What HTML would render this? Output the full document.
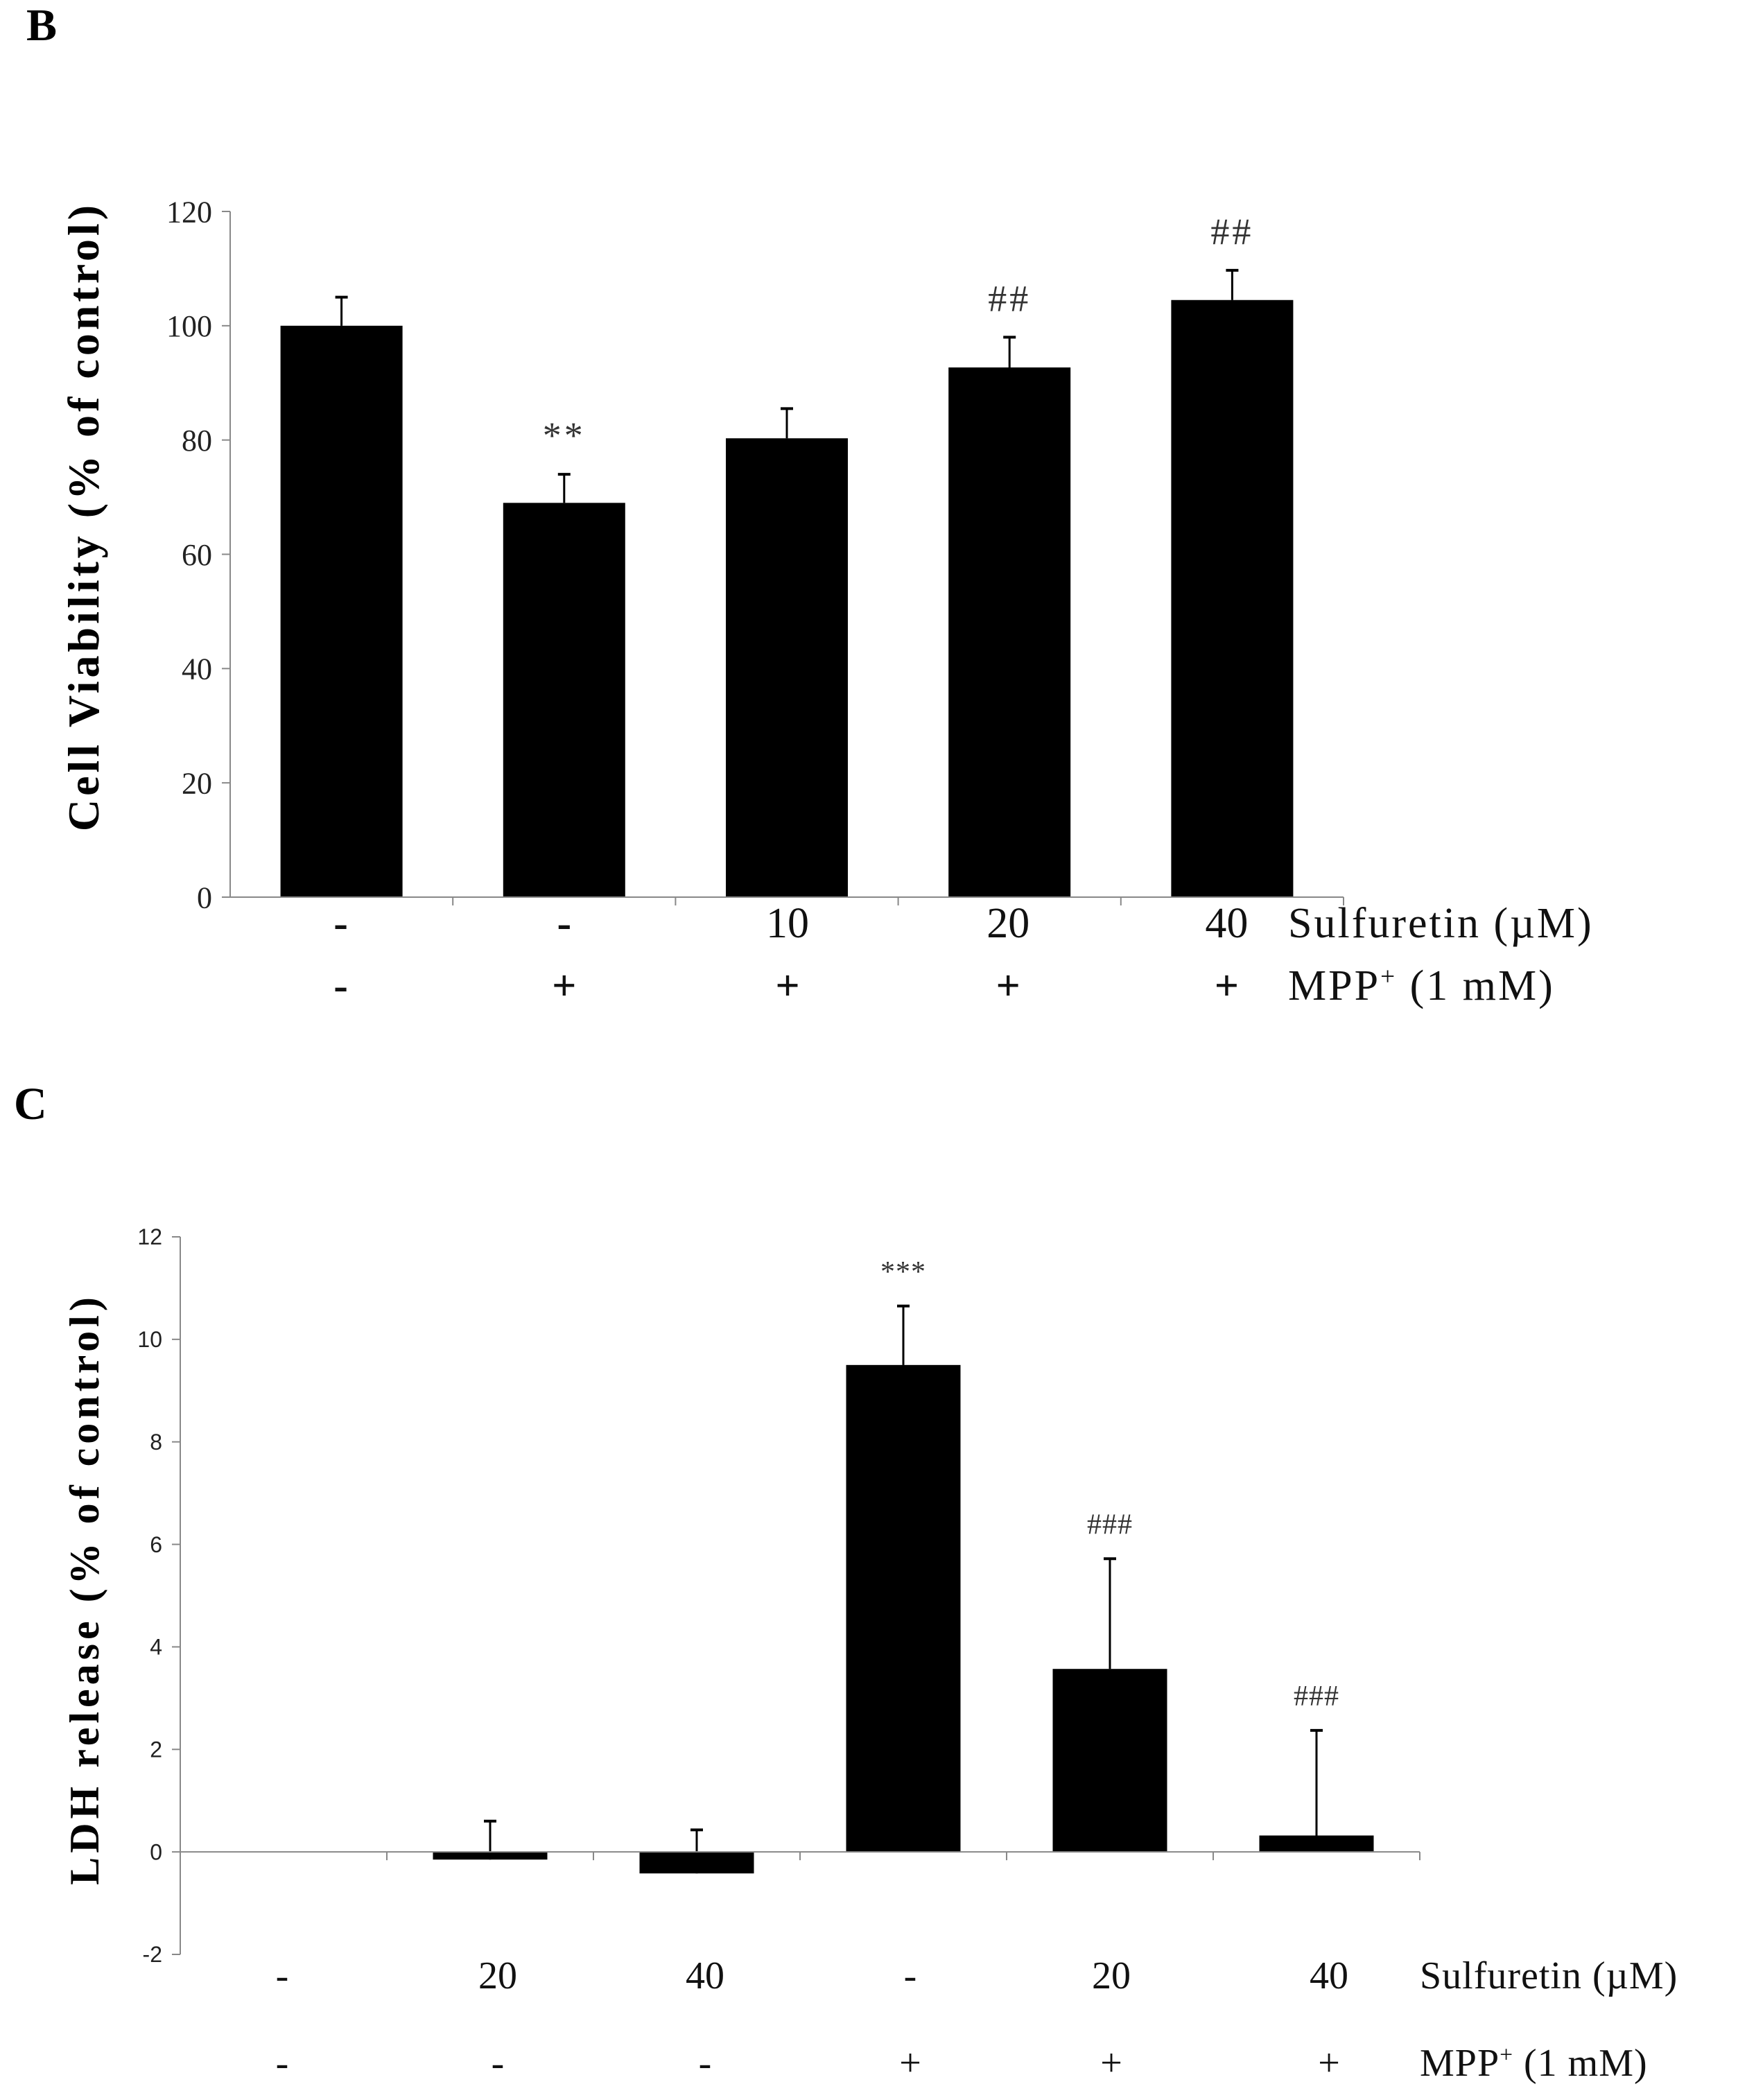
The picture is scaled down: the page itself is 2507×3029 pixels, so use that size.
<!DOCTYPE html>
<html><head><meta charset="utf-8"><style>
html,body{margin:0;padding:0;background:#fff}
svg{display:block}
</style></head><body>
<svg id="fig" width="2507" height="3029" viewBox="0 0 2507 3029" xmlns="http://www.w3.org/2000/svg">
<text x="38" y="58" font-family="Liberation Serif, serif" font-weight="bold" font-size="66">B</text>
<text x="20" y="1614" font-family="Liberation Serif, serif" font-weight="bold" font-size="66">C</text>
<g id="chartB"></g>
<g id="chartC"></g>
</svg>
<script>
const bCategories = ["ctrl","mpp","s10","s20","s40"];
const bValues = [100, 69, 80.3, 92.7, 104.5];
const bErrors = [5, 5, 5.2, 5.3, 5.2];
const bTicks = [0,20,40,60,80,100,120];
const bRow1 = ["-","-","10","20","40"];
const bRow2 = ["-","+","+","+","+"];
const bAnn = ["","**","","##","##"];

const cCategories = ["ctrl","s20","s40","mpp","mpp-s20","mpp-s40"];
const cValues = [0, -0.15, -0.42, 9.5, 3.57, 0.32];
const cErrors = [0, 0.75, 0.85, 1.15, 2.15, 2.05];
const cTicks = [-2,0,2,4,6,8,10,12];
const cRow1 = ["-","20","40","-","20","40"];
const cRow2 = ["-","-","-","+","+","+"];
const cAnn = ["","","","***","###","###"];

const NS="http://www.w3.org/2000/svg";
function mk(parent,tag,attrs,text){const e=document.createElementNS(NS,tag);for(const k in attrs)e.setAttribute(k,attrs[k]);if(text!==undefined)e.textContent=text;parent.appendChild(e);return e;}

function drawChart(g,o){
  const y=v=>o.y0-(v-o.min)/(o.max-o.min)*(o.y0-o.y1);
  const n=o.cats.length, cw=(o.xEnd-o.x0)/n;
  const xc=i=>o.x0+cw*(i+0.5);
  const ya=mk(g,"line",{x1:o.x0,x2:o.x0,y1:y(o.max),y2:y(o.min),stroke:"#888","stroke-width":2});
  
  
  o.ticks.forEach(t=>{
    const tl=mk(g,"line",{x1:o.x0-12,x2:o.x0,y1:y(t),y2:y(t),stroke:"#888","stroke-width":2});
    
    
    const tx=mk(g,"text",{x:o.x0-26,y:y(t)+o.tickFs*0.35,"text-anchor":"end","font-family":o.tickFont,"font-size":o.tickFs,fill:"#222"},String(t));
    
    
  });
  o.vals.forEach((v,i)=>{
    const top=Math.min(y(v),y(0)),h=Math.abs(y(v)-y(0));
    if(h>0){
      const r=mk(g,"rect",{x:xc(i)-o.bw/2,y:top,width:o.bw,height:h,fill:"#000"});
      
      
    }
    if(o.errs[i]>0){
      const eb=mk(g,"line",{x1:xc(i),x2:xc(i),y1:y(v),y2:y(v+o.errs[i]),stroke:"#000","stroke-width":3});
      
      
      const ec=mk(g,"line",{x1:xc(i)-9,x2:xc(i)+9,y1:y(v+o.errs[i]),y2:y(v+o.errs[i]),stroke:"#000","stroke-width":4});
      
      
    }
    if(o.ann[i]){
      const a=mk(g,"text",{x:xc(i),y:y(v+o.errs[i])-o.annGap,"text-anchor":"middle","font-family":"Liberation Serif, serif","font-size":o.annFs,"letter-spacing":o.annLs,fill:"#333"},o.ann[i]);
      
      
    }
  });
  const xa=mk(g,"line",{x1:o.x0,x2:o.xEnd,y1:y(0),y2:y(0),stroke:"#888","stroke-width":2});
  
  
  for(let i=1;i<=n;i++){
    const t=mk(g,"line",{x1:o.x0+cw*i,x2:o.x0+cw*i,y1:y(0),y2:y(0)+12,stroke:"#888","stroke-width":2});
    
    
  }
  [[o.row1,o.r1y,o.r1Name,o.r1Label],[o.row2,o.r2y,o.r2Name,o.r2Label]].forEach(([row,ry,nm,lab])=>{
    row.forEach((s,i)=>{
      const t=mk(g,"text",{x:xc(i)+(o.rowShift?o.rowShift[i]:0),y:ry,"text-anchor":"middle","font-family":"Liberation Serif, serif","font-size":o.rowFs,"font-weight":(s==="+"||s==="-")&&o.boldSigns?"bold":"normal",fill:"#111"},s);
      
      
    });
    const l=mk(g,"text",{x:o.labX,y:ry,"font-family":"Liberation Serif, serif","font-size":o.rowFs,"letter-spacing":o.labLs,fill:"#111"});
    
    
    if(lab.sup){l.appendChild(document.createTextNode("MPP"));mk(l,"tspan",{"font-size":o.rowFs*0.6,dy:-o.rowFs*0.35},"+");mk(l,"tspan",{dy:o.rowFs*0.35}," (1 mM)");}
    else l.textContent=lab.text;
  });
  const yt=mk(g,"text",{x:0,y:0,transform:`translate(${o.titleX},${o.titleY}) rotate(-90)`,"text-anchor":"middle","font-family":"Liberation Serif, serif","font-weight":"bold","font-size":o.titleFs,"letter-spacing":o.titleLs,fill:"#000","xml:space":"preserve"},o.title);
  
  
}

drawChart(document.getElementById("chartB"),{cats:bCategories,vals:bValues,errs:bErrors,ticks:bTicks,ann:bAnn,min:0,max:120,
 x0:332,xEnd:1938,y0:1294,y1:305,bw:176,tickFont:"Liberation Serif, serif",tickFs:44,annFs:54,annLs:4,annGap:38,
 row1:bRow1,row2:bRow2,r1y:1352,r2y:1442,rowFs:62,labLs:3,boldSigns:true,labX:1858,
 r1Name:"sulfuretin",r2Name:"mpp",r1Label:{text:"Sulfuretin (µM)"},r2Label:{sup:true},
 rowShift:[-1,0,1,-2,-8],
 title:"Cell Viability (% of control)",titleX:142,titleY:745,titleFs:64,titleLs:5});

drawChart(document.getElementById("chartC"),{cats:cCategories,vals:cValues,errs:cErrors,ticks:cTicks,ann:cAnn,min:-2,max:12,
 x0:260,xEnd:2048,y0:2819,y1:1784,bw:165,tickFont:"Liberation Sans, sans-serif",tickFs:32,annFs:42,annLs:1,annGap:36,
 row1:cRow1,row2:cRow2,r1y:2868,r2y:2994,rowFs:56,labLs:1,boldSigns:false,labX:2048,
 r1Name:"sulfuretin",r2Name:"mpp",r1Label:{text:"Sulfuretin (µM)"},r2Label:{sup:true},
 rowShift:[-2,11,12,10,2,18],
 title:"LDH release  (% of control)",titleX:142,titleY:2292,titleFs:60,titleLs:6});
</script>
</body></html>
